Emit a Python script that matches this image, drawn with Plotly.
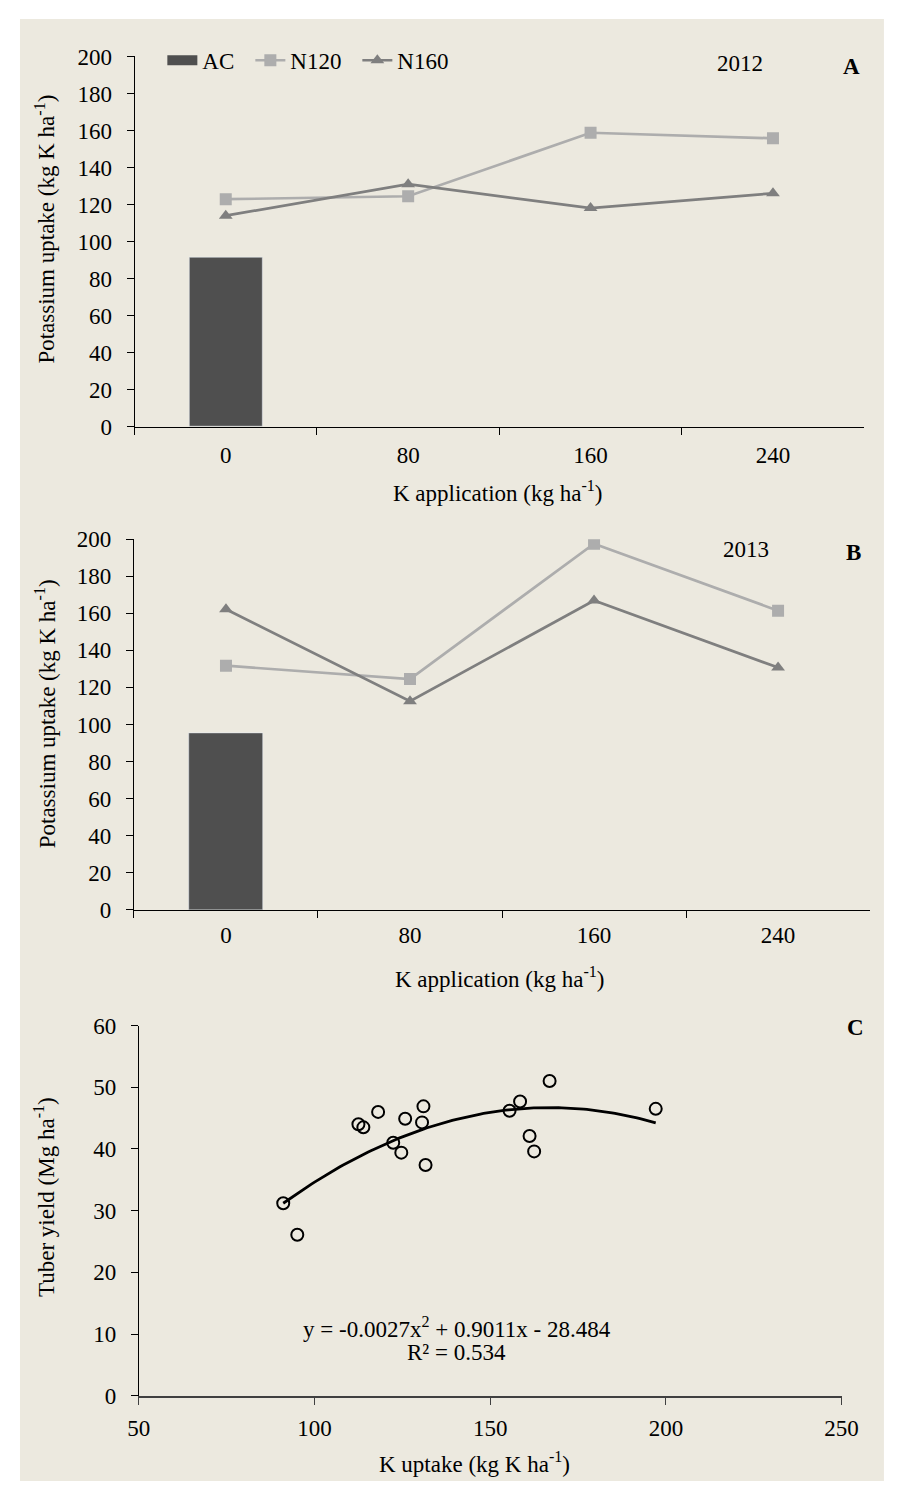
import numpy as np
import plotly.graph_objects as go

PAGE_W, PAGE_H = 907, 1504
OFF = 8  # default body margin of the html page
W, H = PAGE_W - 2 * OFF, PAGE_H - 2 * OFF

# ---------------- data ----------------
k_rates = ["0", "80", "160", "240"]
ac_2012 = [91.7]
n120_2012 = [122.9, 124.5, 158.8, 155.8]
n160_2012 = [114.0, 131.0, 118.1, 126.1]
ac_2013 = [95.5]
n120_2013 = [131.7, 124.5, 197.5, 161.4]
n160_2013 = [162.2, 112.5, 166.9, 130.7]

uptake_x = [91.1, 95.1, 112.5, 113.9, 118.1, 122.4, 124.7, 125.8, 131.0, 130.6,
            131.6, 155.5, 158.5, 166.9, 161.2, 162.5, 197.1]
yield_y = [31.2, 26.1, 44.0, 43.5, 46.0, 41.0, 39.4, 44.9, 46.9, 44.3,
           37.4, 46.2, 47.7, 51.0, 42.1, 39.6, 46.5]
fit_coef = [-0.0027, 0.9011, -28.484]  # quadratic trendline shown on chart

# ---------------- helpers ----------------
FONT = "Liberation Serif, Times New Roman, serif"
FS = 23
C_AC, C_N120, C_N160 = "#4F4F4F", "#ADADAD", "#7F7F7F"


def fx(p):  # page pixel -> paper fraction
    return (p - OFF) / W


def fy(p):
    return 1 - (p - OFF) / H


fig = go.Figure()

# Panel A
fig.add_trace(go.Bar(x=k_rates[:1], y=ac_2012, name="AC", marker_color=C_AC,
                     width=0.4, xaxis="x", yaxis="y", showlegend=False))
# legend proxy for the AC bar (wide block symbol)
fig.add_trace(go.Scatter(x=[None], y=[None], name="AC", mode="lines",
                         line=dict(color=C_AC, width=11), xaxis="x", yaxis="y",
                         legendwidth=43))
fig.add_trace(go.Scatter(x=k_rates, y=n120_2012, name="N120", mode="lines+markers",
                         line=dict(color=C_N120, width=2.7),
                         marker=dict(symbol="square", size=12, color=C_N120),
                         xaxis="x", yaxis="y", legendwidth=62))
fig.add_trace(go.Scatter(x=k_rates, y=n160_2012, name="N160", mode="lines+markers",
                         line=dict(color=C_N160, width=2.7),
                         marker=dict(symbol="triangle-up", size=12, color=C_N160),
                         xaxis="x", yaxis="y", legendwidth=60))
# Panel B
fig.add_trace(go.Bar(x=k_rates[:1], y=ac_2013, name="AC", marker_color=C_AC,
                     width=0.4, xaxis="x2", yaxis="y2", showlegend=False))
fig.add_trace(go.Scatter(x=k_rates, y=n120_2013, name="N120", mode="lines+markers",
                         line=dict(color=C_N120, width=2.7),
                         marker=dict(symbol="square", size=12, color=C_N120),
                         xaxis="x2", yaxis="y2", showlegend=False))
fig.add_trace(go.Scatter(x=k_rates, y=n160_2013, name="N160", mode="lines+markers",
                         line=dict(color=C_N160, width=2.7),
                         marker=dict(symbol="triangle-up", size=12, color=C_N160),
                         xaxis="x2", yaxis="y2", showlegend=False))
# Panel C
xs = np.linspace(min(uptake_x), max(uptake_x), 120)
ys = fit_coef[0] * xs ** 2 + fit_coef[1] * xs + fit_coef[2]
fig.add_trace(go.Scatter(x=xs, y=ys, mode="lines", line=dict(color="black", width=2.8),
                         xaxis="x3", yaxis="y3", showlegend=False))
fig.add_trace(go.Scatter(x=uptake_x, y=yield_y, mode="markers",
                         marker=dict(symbol="circle-open", size=12, color="black",
                                     line=dict(width=2, color="black")),
                         xaxis="x3", yaxis="y3", showlegend=False))

tickfont = dict(family=FONT, size=FS, color="black")
cat_x = dict(type="category", categoryorder="array", categoryarray=k_rates,
             range=[-0.5, 3.5], tickson="boundaries", ticks="outside", ticklen=7,
             tickcolor="black", showline=True, linecolor="black", linewidth=1.2,
             showgrid=False, zeroline=False, tickfont=tickfont)
cat_y = dict(range=[0, 200], dtick=20, ticks="outside", ticklen=7, tickcolor="black",
             showline=True, linecolor="black", linewidth=1, showgrid=False,
             zeroline=False, tickfont=tickfont, ticklabelstandoff=10)

fig.update_layout(
    width=W, height=H,
    margin=dict(l=0, r=0, t=0, b=0),
    paper_bgcolor="white",
    plot_bgcolor="rgba(0,0,0,0)",
    font=dict(family=FONT, size=FS, color="black"),
    xaxis=dict(cat_x, domain=[fx(127.3), fx(880.6)], anchor="y", ticklabelstandoff=8),
    yaxis=dict(cat_y, domain=[fy(421.7), fy(45.1)], anchor="x"),
    xaxis2=dict(cat_x, domain=[fx(126.7), fx(886.7)], anchor="y2", ticklabelstandoff=5),
    yaxis2=dict(cat_y, domain=[fy(913), fy(536)], anchor="x2"),
    xaxis3=dict(range=[50, 250], dtick=50, ticks="outside", ticklen=7, tickcolor="#404040",
                showline=True, linecolor="#404040", linewidth=2, showgrid=False,
                zeroline=False, tickfont=tickfont, domain=[fx(131.7), fx(857.3)],
                anchor="y3", ticklabelstandoff=4),
    yaxis3=dict(range=[0, 60], dtick=10, ticks="outside", ticklen=7, tickcolor="black",
                showline=True, linecolor="black", linewidth=1, showgrid=False,
                zeroline=False, tickfont=tickfont, domain=[fy(1407.3), fy(1030.7)],
                anchor="x3", ticklabelstandoff=10),
    legend=dict(orientation="h", x=fx(156), y=fy(49), xanchor="left", yanchor="middle",
                bgcolor="rgba(0,0,0,0)", font=dict(family=FONT, size=FS),
                traceorder="normal", itemwidth=30, tracegroupgap=0, borderwidth=0),
    showlegend=True,
    bargap=0,
)

fig.add_shape(type="rect", xref="paper", yref="paper", x0=fx(9), x1=fx(901),
              y0=fy(1494), y1=fy(7), fillcolor="#ECE9DF", line=dict(width=0), layer="below")


def ann(text, x, y, angle=0, bold=False, size=FS):
    fig.add_annotation(text=f"<b>{text}</b>" if bold else text, xref="paper", yref="paper",
                       x=fx(x), y=fy(y), xanchor="center", yanchor="middle",
                       showarrow=False, textangle=angle,
                       font=dict(family=FONT, size=size, color="black"))


ann("2012", 752, 52)
ann("A", 867, 55, bold=True)
ann("2013", 759, 547)
ann("B", 870, 550, bold=True)
ann("C", 872, 1033, bold=True)
ann("y = -0.0027x<sup>2</sup> + 0.9011x - 28.484", 460, 1338)
ann("R² = 0.534", 460, 1363)
ann("Potassium uptake (kg K ha<sup>-1</sup>)", 35, 221, angle=-90)
ann("Potassium uptake (kg K ha<sup>-1</sup>)", 35, 714, angle=-90)
ann("Tuber yield (Mg ha<sup>-1</sup>)", 35, 1205, angle=-90)
ann("K application (kg ha<sup>-1</sup>)", 503, 488)
ann("K application (kg ha<sup>-1</sup>)", 505, 982)
ann("K uptake (kg K ha<sup>-1</sup>)", 478, 1475)

fig.write_html("out.html", config={"displayModeBar": False})
